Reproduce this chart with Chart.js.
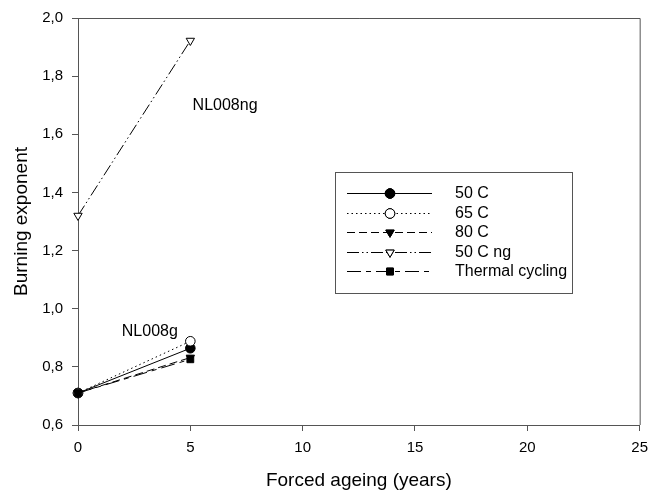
<!DOCTYPE html>
<html>
<head>
<meta charset="utf-8">
<script src="https://cdn.jsdelivr.net/npm/chart.js@4/dist/chart.umd.min.js"></script>
<style>
  html, body { margin: 0; padding: 0; background: #fff; }
  #wrap { width: 656px; height: 498px; }
</style>
</head>
<body>
<div id="wrap"><canvas id="chart" width="656" height="498"></canvas></div>
<script>
// Données
const years = [0, 5];
const seriesLabels = ['50 C', '65 C', '80 C', '50 C ng', 'Thermal cycling'];
const val50C = [0.71, 0.864];
const val65C = [0.71, 0.888];
const val80C = [0.71, 0.832];
const val50Cng = [1.32, 1.922];
const valThermal = [0.71, 0.826];
const yTicks = [0.6, 0.8, 1.0, 1.2, 1.4, 1.6, 1.8, 2.0];
const xTicks = [0, 5, 10, 15, 20, 25];
const notes = [
    { text: 'NL008ng', x: 5.1, y: 1.70 },
    { text: 'NL008g', x: 1.95, y: 0.922 }
];

const FONT = "'Liberation Sans', Arial, sans-serif";
const AXIS = '#555';

const styles = [
    { dash: [], point: 'circle', fill: '#000', rot: 0 },
    { dash: [1.5, 3], point: 'circle', fill: '#fff', rot: 0 },
    { dash: [8, 4], point: 'triangle', fill: '#000', rot: 180 },
    { dash: [12, 3, 1.5, 3, 1.5, 3], point: 'triangle', fill: '#fff', rot: 180 },
    { dash: [14, 5, 5, 5], point: 'rect', fill: '#000', rot: 0 }
];
const values = [val50C, val65C, val80C, val50Cng, valThermal];

const datasets = values.map((vals, i) => ({
    label: seriesLabels[i],
    data: years.map((x, j) => ({ x, y: vals[j] })),
    borderColor: '#000',
    borderWidth: 1,
    borderDash: styles[i].dash,
    pointStyle: styles[i].point,
    pointRotation: styles[i].rot,
    pointRadius: 4.8,
    pointBackgroundColor: styles[i].fill,
    pointBorderColor: '#000',
    pointBorderWidth: 1,
    tension: 0,
    clip: false,
    order: 5 - i
}));

// Cadre autour de la zone de tracé + annotations + légende
const decor = {
    id: 'decor',
    afterDraw(chart) {
        const { ctx, chartArea: a, scales } = chart;
        ctx.save();
        ctx.strokeStyle = AXIS;
        ctx.lineWidth = 1;
        ctx.beginPath();
        ctx.moveTo(a.left, a.top + 0.5);
        ctx.lineTo(a.right + 0.5, a.top + 0.5);
        ctx.lineTo(a.right + 0.5, a.bottom);
        ctx.stroke();

        ctx.fillStyle = '#000';
        ctx.font = '16px ' + FONT;
        ctx.textBaseline = 'middle';
        ctx.textAlign = 'left';
        notes.forEach(n => {
            ctx.fillText(n.text, scales.x.getPixelForValue(n.x), scales.y.getPixelForValue(n.y));
        });

        // Légende
        const bx = 335, by = 172, bw = 237, bh = 121;
        ctx.strokeStyle = AXIS;
        ctx.strokeRect(bx + 0.5, by + 0.5, bw, bh);
        ctx.font = '16px ' + FONT;
        chart.data.datasets.forEach((ds, i) => {
            const yy = Math.round(by + 21 + i * 19.5) + 0.5;
            ctx.strokeStyle = '#000';
            ctx.lineWidth = 1;
            ctx.setLineDash(ds.borderDash);
            ctx.beginPath();
            ctx.moveTo(bx + 12, yy);
            ctx.lineTo(bx + 97, yy);
            ctx.stroke();
            ctx.setLineDash([]);
            Chart.helpers.drawPoint(ctx, {
                pointStyle: ds.pointStyle,
                rotation: ds.pointRotation,
                radius: ds.pointRadius,
                borderWidth: 1
            }, bx + 55, yy);
            ctx.fillStyle = ds.pointBackgroundColor;
            ctx.strokeStyle = '#000';
            ctx.fill();
            ctx.stroke();
            ctx.fillStyle = '#000';
            ctx.fillText(ds.label, bx + 120, yy);
        });
        ctx.restore();
    }
};

new Chart(document.getElementById('chart'), {
    type: 'scatter',
    data: { datasets },
    options: {
        responsive: false,
        animation: false,
        showLine: true,
        layout: { padding: { top: 16, right: 11, left: 0, bottom: 0 } },
        plugins: { legend: { display: false }, tooltip: { enabled: false } },
        scales: {
            x: {
                type: 'linear',
                min: 0,
                max: 25,
                afterBuildTicks: s => { s.ticks = xTicks.map(v => ({ value: v })); },
                afterFit: s => { s.height = 73; },
                grid: { display: true, drawOnChartArea: false, drawTicks: true, tickLength: 6, color: AXIS },
                border: { color: AXIS, width: 1 },
                ticks: { color: '#000', font: { family: FONT, size: 15 }, padding: 8, maxRotation: 0 },
                title: { display: true, text: 'Forced ageing (years)', color: '#000', font: { family: FONT, size: 19 }, padding: { top: 0, bottom: 6 } }
            },
            y: {
                type: 'linear',
                min: 0.6,
                max: 2.0,
                afterBuildTicks: s => { s.ticks = yTicks.map(v => ({ value: v })); },
                afterFit: s => { s.width = 78; },
                grid: { display: true, drawOnChartArea: false, drawTicks: true, tickLength: 6, color: AXIS },
                border: { color: AXIS, width: 1 },
                ticks: {
                    color: '#000',
                    font: { family: FONT, size: 15 },
                    padding: 9,
                    callback: v => v.toFixed(1).replace('.', ',')
                },
                title: { display: true, text: 'Burning exponent', color: '#000', font: { family: FONT, size: 19 }, padding: { top: 10, bottom: 0 } }
            }
        }
    },
    plugins: [decor]
});
</script>
</body>
</html>
